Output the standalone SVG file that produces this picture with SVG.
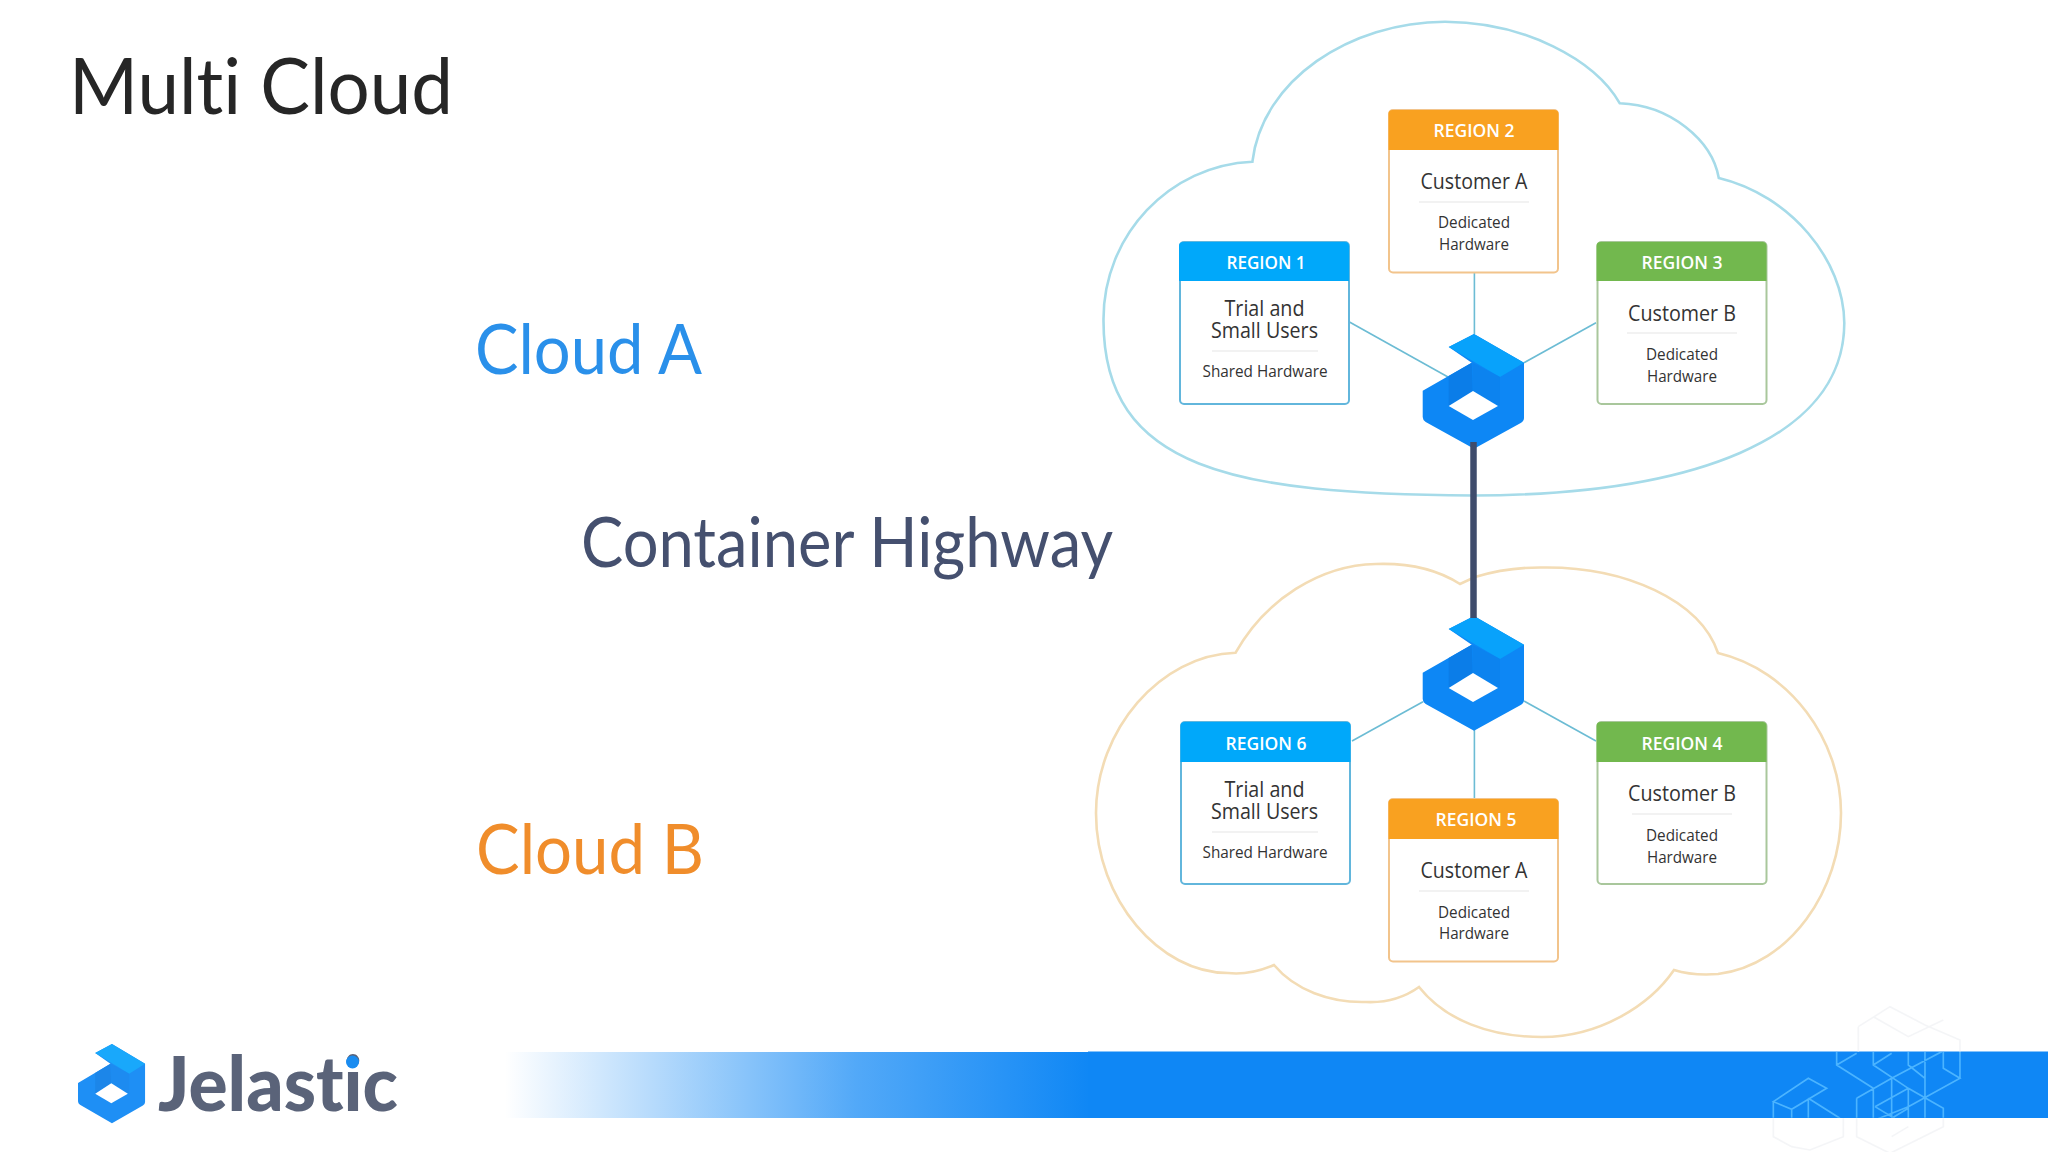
<svg xmlns="http://www.w3.org/2000/svg" width="2048" height="1152" viewBox="0 0 2048 1152">
<style>
.big{font-family:Lato,"Open Sans",sans-serif;font-size:70px;font-weight:400;font-variant-ligatures:none}
.hd{font-family:"Open Sans","Noto Sans",sans-serif;font-size:18px;font-weight:600;fill:#fff;text-anchor:middle}
.t1{font-family:"Open Sans","Noto Sans",sans-serif;font-size:21px;fill:#333;text-anchor:middle}
.t2{font-family:"Open Sans","Noto Sans",sans-serif;font-size:16px;fill:#333;text-anchor:middle}
.card{fill:#fff;stroke-width:2}
.div{stroke:#e6e6e6;stroke-width:1.2}
.cn{stroke:#6cbcd4;stroke-width:1.6;fill:none}
.cloud{fill:#fff;stroke-width:2.6}
.blue .card{stroke:#62b6dc}.blue .h{fill:#00a8fa}
.orange .card{stroke:#f2c48c}.orange .h{fill:#f9a120}
.green .card{stroke:#a9c79c}.green .h{fill:#72b84e}
</style>
<defs>
<linearGradient id="bar" x1="505" x2="1090" y1="0" y2="0" gradientUnits="userSpaceOnUse">
<stop offset="0" stop-color="#0f87f5" stop-opacity="0"/>
<stop offset="0.25" stop-color="#0f87f5" stop-opacity=".3"/>
<stop offset="0.6" stop-color="#0f87f5" stop-opacity=".72"/>
<stop offset="1" stop-color="#0f87f5"/>
</linearGradient>
<clipPath id="hc"><rect x="0" y="186" width="1044" height="197"/></clipPath>
<g id="mark">
<path d="M51.3 0L101.3 28.700V84Q101.300 87 98 89L51.300 114.700L3 88Q0 86 0 83V56.700L49 28.700L26 13Z" fill="#0d87f5"/>
<path d="M51.300 0L101.300 28.700L77.300 43L26 13Z" fill="#08a2fb"/>
<path d="M49 28.700L26 42V72L50 57Z" fill="#0b7de8"/>
<path d="M50 29L77.300 43V72L50 57Z" fill="#0c83ef"/>
<path d="M50.300 57L75.300 72L50.300 86L26 72Z" fill="#fff"/>
</g>
</defs>
<rect width="2048" height="1152" fill="#fff"/>

<g id="footer-bar">
<rect x="505" y="1052" width="585" height="66" fill="url(#bar)"/>
<rect x="1088" y="1051.500" width="960" height="66.500" fill="#0f87f5"/>
<g transform="translate(1700 990) scale(.3333)" fill="none" stroke-width="5">
<path d="M475 110L570 50L675 105L780 150V185M475 110V185M520 80L625 140L730 90M220 385V440L275 470L330 480L430 440V385M470 385V440L570 490L730 410V385M575 440L625 410" stroke="#eceef2" opacity=".6"/>
<path clip-path="url(#hc)" stroke="#4bb4ff" d="M220 335L325 265L380 295L275 358ZM220 335V390M275 358V390M325 325V390M325 325L420 385M410 185V225L520 295V390M410 225L470 190M520 185V225L625 295L730 355V390M520 225L575 190M575 265L725 185M625 185V225L675 265M675 185V390M730 185V235L780 265L625 350M780 185V265M470 325L575 265M470 325V390M575 265V390M625 295V390M525 350L625 295M525 350L625 410M625 350L525 390M575 385L625 355"/>
</g>
</g>

<g id="cloud-a"><path class="cloud" stroke="#a6dbe9" d="M1252.400 161.700C1262 80 1350 22 1445 21.700C1525 22 1595 60 1619.800 103.300C1670 105 1712 140 1718.800 178C1790 195 1844 260 1844.300 323C1844 440 1690 495 1473 495.500C1235 494 1103 470 1103.500 320C1103 235 1170 165 1252.400 161.700Z"/></g>
<g id="cloud-b"><path class="cloud" stroke="#f3dcb5" d="M1460 584C1435 568 1405 563 1376 564C1320 565 1265 600 1235.600 652.700C1160 655 1096 730 1096 813C1096 900 1160 973 1228 973C1245 975 1262 970 1274 965C1295 990 1330 1003 1366 1002C1388 1003 1405 997 1419 987C1445 1020 1490 1037 1542 1037C1600 1037 1650 1005 1674 970C1690 975 1705 975 1718 974C1790 965 1841 890 1841 813C1841 740 1790 670 1718 653C1700 600 1625 567 1545 567.500C1520 567 1498 570 1475 577Z"/></g>

<g id="connectors">
<path class="cn" d="M1349 321.700L1448 377"/>
<path class="cn" d="M1474.400 272V334"/>
<path class="cn" d="M1596 322.700L1524 362.700"/>
<path class="cn" d="M1352 741L1423 701.700"/>
<path class="cn" d="M1474.400 728V799"/>
<path class="cn" d="M1524 701L1596 741"/>
</g>

<g id="hub-a"><use href="#mark" x="1422.700" y="334"/></g>
<g id="hub-b"><use href="#mark" x="1422.700" y="616"/></g>
<g id="highway"><path d="M1473.500 442V618" stroke="#3f4c6c" stroke-width="6.500" fill="none"/></g>

<g id="region-1" class="blue">
<rect class="card" x="1180" y="242" width="169" height="162" rx="4"/>
<path class="h" d="M1179 246a4 4 0 0 1 4-4h162a4 4 0 0 1 4 4v35h-170z"/>
<text class="hd" x="1266" y="268.500" textLength="79" lengthAdjust="spacingAndGlyphs">REGION 1</text>
<text class="t1" x="1264.500" y="315.500" textLength="80" lengthAdjust="spacingAndGlyphs">Trial and</text>
<text class="t1" x="1264.500" y="337.500" textLength="107" lengthAdjust="spacingAndGlyphs">Small Users</text>
<path class="div" d="M1212 351H1318"/>
<text class="t2" x="1265" y="377" textLength="125" lengthAdjust="spacingAndGlyphs">Shared Hardware</text>
</g>
<g id="region-2" class="orange">
<rect class="card" x="1389" y="110" width="169" height="162.500" rx="4"/>
<path class="h" d="M1388.500 114a4 4 0 0 1 4-4h162a4 4 0 0 1 4 4v36h-170z"/>
<text class="hd" x="1474" y="137" textLength="81" lengthAdjust="spacingAndGlyphs">REGION 2</text>
<text class="t1" x="1474" y="189" textLength="107" lengthAdjust="spacingAndGlyphs">Customer A</text>
<path class="div" d="M1419 202H1529"/>
<text class="t2" x="1474" y="228" textLength="72" lengthAdjust="spacingAndGlyphs">Dedicated</text>
<text class="t2" x="1474" y="250" textLength="70" lengthAdjust="spacingAndGlyphs">Hardware</text>
</g>
<g id="region-3" class="green">
<rect class="card" x="1597.500" y="242" width="169" height="162" rx="4"/>
<path class="h" d="M1596.500 246a4 4 0 0 1 4-4h162a4 4 0 0 1 4 4v35h-170z"/>
<text class="hd" x="1682" y="268.500" textLength="81" lengthAdjust="spacingAndGlyphs">REGION 3</text>
<text class="t1" x="1682" y="320.500" textLength="108" lengthAdjust="spacingAndGlyphs">Customer B</text>
<path class="div" d="M1627 333H1737"/>
<text class="t2" x="1682" y="360" textLength="72" lengthAdjust="spacingAndGlyphs">Dedicated</text>
<text class="t2" x="1682" y="382" textLength="70" lengthAdjust="spacingAndGlyphs">Hardware</text>
</g>
<g id="region-6" class="blue">
<rect class="card" x="1181" y="722" width="169" height="162" rx="4"/>
<path class="h" d="M1180.500 726a4 4 0 0 1 4-4h162a4 4 0 0 1 4 4v36h-170z"/>
<text class="hd" x="1266" y="749.500" textLength="81" lengthAdjust="spacingAndGlyphs">REGION 6</text>
<text class="t1" x="1264.500" y="796.500" textLength="80" lengthAdjust="spacingAndGlyphs">Trial and</text>
<text class="t1" x="1264.500" y="818.500" textLength="107" lengthAdjust="spacingAndGlyphs">Small Users</text>
<path class="div" d="M1212 832H1318"/>
<text class="t2" x="1265" y="858" textLength="125" lengthAdjust="spacingAndGlyphs">Shared Hardware</text>
</g>
<g id="region-5" class="orange">
<rect class="card" x="1389" y="799" width="169" height="162.500" rx="4"/>
<path class="h" d="M1388.500 803a4 4 0 0 1 4-4h162a4 4 0 0 1 4 4v36h-170z"/>
<text class="hd" x="1476" y="826" textLength="81" lengthAdjust="spacingAndGlyphs">REGION 5</text>
<text class="t1" x="1474" y="877.500" textLength="107" lengthAdjust="spacingAndGlyphs">Customer A</text>
<path class="div" d="M1419 891H1529"/>
<text class="t2" x="1474" y="917.500" textLength="72" lengthAdjust="spacingAndGlyphs">Dedicated</text>
<text class="t2" x="1474" y="939" textLength="70" lengthAdjust="spacingAndGlyphs">Hardware</text>
</g>
<g id="region-4" class="green">
<rect class="card" x="1597.500" y="722" width="169" height="162" rx="4"/>
<path class="h" d="M1596.500 726a4 4 0 0 1 4-4h162a4 4 0 0 1 4 4v36h-170z"/>
<text class="hd" x="1682" y="749.500" textLength="81" lengthAdjust="spacingAndGlyphs">REGION 4</text>
<text class="t1" x="1682" y="801" textLength="108" lengthAdjust="spacingAndGlyphs">Customer B</text>
<path class="div" d="M1632 814H1732"/>
<text class="t2" x="1682" y="840.500" textLength="72" lengthAdjust="spacingAndGlyphs">Dedicated</text>
<text class="t2" x="1682" y="862.500" textLength="70" lengthAdjust="spacingAndGlyphs">Hardware</text>
</g>

<g id="labels">
<text class="big" x="69" y="114" fill="#262626" style="font-size:78px" textLength="384" lengthAdjust="spacingAndGlyphs">Multi Cloud</text>
<text class="big" x="475" y="374" fill="#2a90ea" textLength="227" lengthAdjust="spacingAndGlyphs">Cloud A</text>
<text class="big" x="581" y="567" fill="#45506f" textLength="532" lengthAdjust="spacingAndGlyphs">Container Highway</text>
<text class="big" x="476" y="874" fill="#f08d2b" textLength="228" lengthAdjust="spacingAndGlyphs">Cloud B</text>
</g>

<g id="logo">
<use href="#mark" transform="translate(78 1044) scale(.662 .69)" opacity=".93"/>
<text x="158" y="1110.500" font-family="Lato,'Liberation Sans',sans-serif" font-weight="900" font-size="76" fill="#5a6379" textLength="240" lengthAdjust="spacingAndGlyphs" style="font-variant-ligatures:none">Jelastic</text>
<circle cx="352.500" cy="1062" r="6.500" fill="#1a8cf0"/>
</g>
</svg>
